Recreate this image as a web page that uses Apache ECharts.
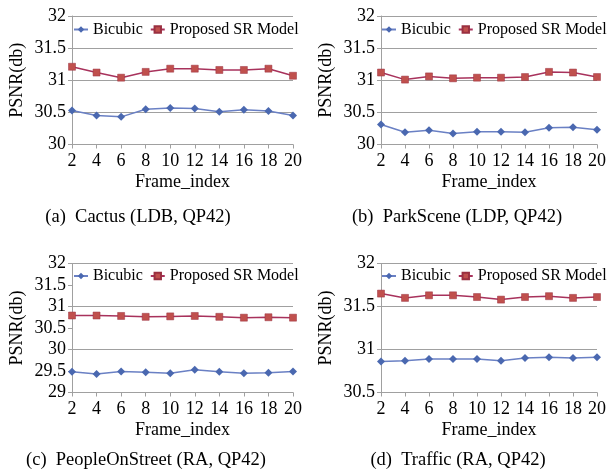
<!DOCTYPE html>
<html>
<head>
<meta charset="utf-8">
<script src="https://cdn.jsdelivr.net/npm/echarts@6/dist/echarts.min.js"></script>
<style>html,body{margin:0;padding:0;background:#fff}#c{width:609px;height:475px}</style>
</head>
<body>
<div id="c"></div>
<script>
var frames = ['2','4','6','8','10','12','14','16','18','20'];
var seriesNames = ['Bicubic', 'Proposed SR Model'];
var captions = ['(a)  Cactus (LDB, QP42)', '(b)  ParkScene (LDP, QP42)', '(c)  PeopleOnStreet (RA, QP42)', '(d)  Traffic (RA, QP42)'];

var cactusBicubic  = [30.53, 30.45, 30.43, 30.55, 30.57, 30.56, 30.51, 30.54, 30.52, 30.45];
var cactusProposed = [31.21, 31.12, 31.04, 31.13, 31.18, 31.18, 31.16, 31.16, 31.18, 31.07];
var parkBicubic    = [30.31, 30.19, 30.22, 30.17, 30.20, 30.20, 30.19, 30.26, 30.27, 30.23];
var parkProposed   = [31.12, 31.01, 31.06, 31.03, 31.04, 31.04, 31.05, 31.13, 31.12, 31.05];
var peopleBicubic  = [29.48, 29.43, 29.49, 29.47, 29.45, 29.53, 29.48, 29.45, 29.46, 29.49];
var peopleProposed = [30.79, 30.79, 30.78, 30.76, 30.77, 30.78, 30.76, 30.74, 30.75, 30.74];
var trafficBicubic = [30.86, 30.87, 30.89, 30.89, 30.89, 30.87, 30.90, 30.91, 30.90, 30.91];
var trafficProposed= [31.65, 31.60, 31.63, 31.63, 31.61, 31.58, 31.61, 31.62, 31.60, 31.61];

var yRanges = [[30, 32], [30, 32], [29, 32], [30.5, 32]];
var panelData = [
  [cactusBicubic, cactusProposed],
  [parkBicubic, parkProposed],
  [peopleBicubic, peopleProposed],
  [trafficBicubic, trafficProposed]
];

var FONT = 'Liberation Serif';
var grids = [
  {left: 72, top: 16, width: 221, height: 128.5},
  {left: 381, top: 16, width: 220, height: 128.5},
  {left: 72, top: 263.5, width: 221, height: 129},
  {left: 381, top: 263.5, width: 220, height: 129}
];
var legendPos = [
  {left: 73, top: 21.5}, {left: 381, top: 21.5},
  {left: 73, top: 268}, {left: 381, top: 268}
];
var capPos = [
  {x: 138, y: 217}, {x: 457, y: 217},
  {x: 146, y: 460}, {x: 458, y: 460}
];

var gridColor = '#a0a0a0';
var xAxes = [], yAxes = [], series = [], legends = [], graphics = [];
for (var i = 0; i < 4; i++) {
  xAxes.push({
    type: 'category', gridIndex: i, data: frames, boundaryGap: false,
    name: 'Frame_index', nameLocation: 'middle', nameGap: 29,
    nameTextStyle: {fontFamily: FONT, fontSize: 18, color: '#000'},
    axisLine: {lineStyle: {color: gridColor, width: 1}},
    axisTick: {show: true, length: 4, lineStyle: {color: gridColor}},
    axisLabel: {fontFamily: FONT, fontSize: 18, color: '#000', margin: 8, interval: 0},
    splitLine: {show: false}
  });
  var splitColor = (i === 2) ? [gridColor, 'rgba(0,0,0,0)'] : [gridColor];
  yAxes.push({
    type: 'value', gridIndex: i, min: yRanges[i][0], max: yRanges[i][1], interval: 0.5,
    name: 'PSNR(db)', nameLocation: 'middle', nameGap: 46,
    nameTextStyle: {fontFamily: FONT, fontSize: 18, color: '#000'},
    axisLine: {show: true, lineStyle: {color: gridColor, width: 1}},
    axisTick: {show: true, length: 4, lineStyle: {color: gridColor}},
    axisLabel: {fontFamily: FONT, fontSize: 18, color: '#000', margin: 6},
    splitLine: {show: true, lineStyle: {color: splitColor, width: 1}}
  });
  series.push({
    name: seriesNames[0], type: 'line', xAxisIndex: i, yAxisIndex: i,
    data: panelData[i][0], symbol: 'diamond', symbolSize: 8,
    lineStyle: {color: '#6a80c4', width: 1.5},
    itemStyle: {color: '#4a68b0'}, animation: false
  });
  series.push({
    name: seriesNames[1], type: 'line', xAxisIndex: i, yAxisIndex: i,
    data: panelData[i][1], symbol: 'rect', symbolSize: 7,
    lineStyle: {color: '#a8325c', width: 1.5},
    itemStyle: {color: '#c0504d', borderColor: '#9a3040', borderWidth: 0.5}, animation: false
  });
  legends.push({
    left: legendPos[i].left, top: legendPos[i].top, orient: 'horizontal',
    width: 260,
    itemWidth: 14, itemHeight: 8, itemGap: 7, padding: 0,
    data: seriesNames,
    textStyle: {fontFamily: FONT, fontSize: 16, color: '#000'}
  });
  graphics.push({
    type: 'text', x: capPos[i].x, y: capPos[i].y,
    style: {text: captions[i], fontFamily: FONT, fontSize: 18.5, fill: '#000', textAlign: 'center', textVerticalAlign: 'middle'}
  });
}

var chart = echarts.init(document.getElementById('c'), null, {renderer: 'canvas'});
chart.setOption({
  backgroundColor: '#fff',
  animation: false,
  grid: grids,
  xAxis: xAxes,
  yAxis: yAxes,
  legend: legends,
  series: series,
  graphic: graphics
});
</script>
</body>
</html>
